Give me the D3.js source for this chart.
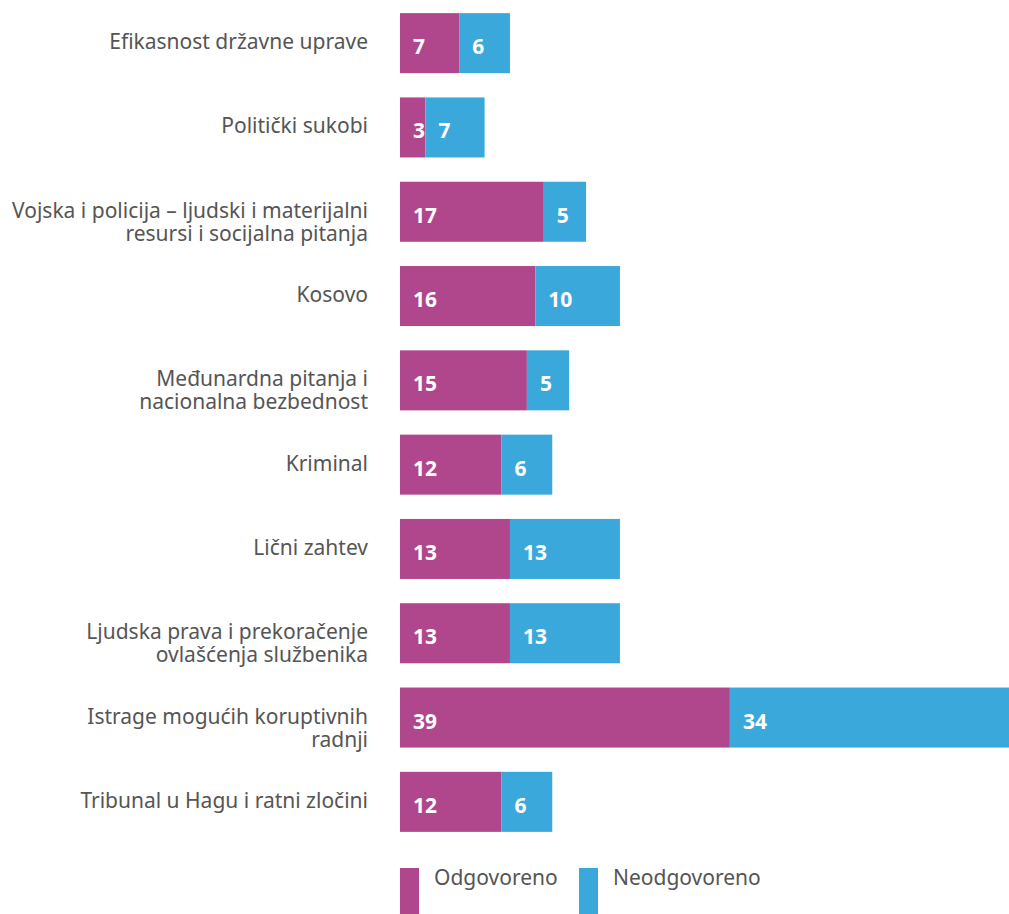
<!DOCTYPE html>
<html>
<head>
<meta charset="utf-8">
<script src="https://cdn.jsdelivr.net/npm/d3@7"></script>
<style>
  html, body { margin: 0; padding: 0; background: #fff; }
  svg { display: block; font-family: "Noto Sans", "Open Sans", sans-serif; }
</style>
</head>
<body>
<div id="chart"></div>
<script>
// Categories (line breaks as in the original labels)
const categories = [
  "Efikasnost državne uprave",
  "Politički sukobi",
  "Vojska i policija – ljudski i materijalni\nresursi i socijalna pitanja",
  "Kosovo",
  "Međunardna pitanja i\nnacionalna bezbednost",
  "Kriminal",
  "Lični zahtev",
  "Ljudska prava i prekoračenje\novlašćenja službenika",
  "Istrage mogućih koruptivnih\nradnji",
  "Tribunal u Hagu i ratni zločini"
];
const answered = [7, 3, 17, 16, 15, 12, 13, 13, 39, 12];
const unanswered = [6, 7, 5, 10, 5, 6, 13, 13, 34, 6];
const seriesNames = ["Odgovoreno", "Neodgovoreno"];
const colors = ["#b0468c", "#3aa8db"];

const width = 1009, height = 914;
const svg = d3.select("#chart").append("svg")
  .attr("width", width)
  .attr("height", height);

const x0 = 400;
const x = d3.scaleLinear().domain([0, 72]).range([x0, x0 + 609]);
const y = d3.scaleBand()
  .domain(categories)
  .range([1, 844])
  .paddingInner(0.288)
  .paddingOuter(0.144);

const rows = categories.map((c, i) => ({ cat: c, vals: [answered[i], unanswered[i]] }));

const stack = d3.stack().keys([0, 1]).value((d, k) => d.vals[k]);
const layers = stack(rows);

layers.forEach((layer, k) => {
  const g = svg.append("g");
  g.selectAll("rect")
    .data(layer)
    .join("rect")
    .attr("x", d => x(d[0]))
    .attr("y", d => y(d.data.cat))
    .attr("width", d => x(d[1]) - x(d[0]))
    .attr("height", y.bandwidth())
    .attr("fill", colors[k]);
  g.selectAll("text")
    .data(layer)
    .join("text")
    .attr("x", d => x(d[0]) + 13)
    .attr("y", d => y(d.data.cat) + y.bandwidth() / 2 + 11)
    .attr("fill", "#fff")
    .attr("font-weight", "bold")
    .attr("font-size", 21)
    .text(d => d[1] - d[0]);
});

// Category labels: first line level with the bar, further lines below
const labels = svg.append("g");
categories.forEach(c => {
  const lines = c.split("\n");
  const base = y(c) + y.bandwidth() / 2 + 6;
  const t = labels.append("text")
    .attr("text-anchor", "end")
    .attr("fill", "#555")
    .attr("font-size", 21);
  lines.forEach((ln, j) => {
    t.append("tspan")
      .attr("x", 368)
      .attr("y", base + j * 23)
      .text(ln);
  });
});

// Legend
const legendX = [400, 579];
seriesNames.forEach((name, k) => {
  svg.append("rect")
    .attr("x", legendX[k])
    .attr("y", 868)
    .attr("width", 19)
    .attr("height", 46)
    .attr("fill", colors[k]);
  svg.append("text")
    .attr("x", legendX[k] + 34)
    .attr("y", 885)
    .attr("fill", "#555")
    .attr("font-size", 21)
    .text(name);
});
</script>
</body>
</html>
